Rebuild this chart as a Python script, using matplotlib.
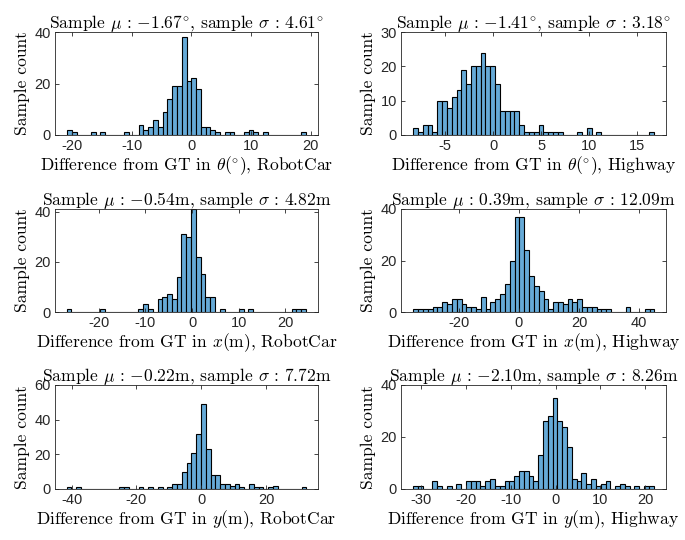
import numpy as np
import matplotlib.pyplot as plt

plt.rcParams['mathtext.fontset'] = 'cm'
plt.rcParams['axes.formatter.use_mathtext'] = True

# histogram counts (50 bins each), bin start and bin width
theta_robotcar = [2, 1, 0, 0, 0, 1, 0, 1, 0, 0,
                  0, 0, 1, 0, 0, 4, 2, 3, 6, 3,
                  9, 14, 19, 19, 38, 21, 22, 18, 3, 3,
                  2, 1, 0, 1, 1, 0, 0, 1, 2, 1,
                  0, 1, 0, 0, 0, 0, 0, 0, 0, 1]
theta_highway = [2, 1, 3, 3, 1, 10, 10, 8, 11, 13,
                 19, 15, 20, 20, 24, 20, 20, 15, 7, 7,
                 7, 7, 3, 1, 1, 1, 3, 1, 1, 1,
                 1, 0, 0, 0, 1, 0, 2, 0, 1, 0,
                 0, 0, 0, 0, 0, 0, 0, 0, 0, 1]
x_robotcar = [1, 0, 0, 0, 0, 0, 0, 1, 0, 0,
              0, 0, 0, 0, 0, 1, 3, 1, 0, 5,
              6, 7, 5, 14, 31, 30, 41, 22, 15, 6,
              6, 0, 1, 0, 0, 0, 1, 0, 1, 0,
              0, 0, 0, 0, 0, 0, 0, 1, 1, 1]
x_highway = [1, 1, 1, 1, 2, 2, 4, 3, 5, 5,
             3, 2, 2, 1, 6, 1, 4, 5, 7, 11,
             20, 37, 37, 24, 14, 10, 8, 5, 1, 4,
             4, 3, 5, 4, 5, 2, 2, 2, 1, 1,
             1, 0, 0, 0, 2, 0, 0, 0, 1, 1]
y_robotcar = [1, 0, 1, 0, 0, 0, 0, 0, 0, 0,
              0, 1, 1, 0, 0, 1, 0, 1, 0, 1,
              0, 1, 3, 3, 10, 15, 21, 32, 49, 23,
              8, 8, 3, 3, 2, 3, 1, 0, 3, 1,
              1, 0, 1, 2, 0, 0, 0, 0, 0, 1]
y_highway = [1, 1, 0, 0, 3, 1, 0, 1, 0, 2,
             0, 3, 3, 3, 1, 3, 4, 1, 1, 3,
             3, 5, 7, 7, 5, 3, 13, 26, 28, 35,
             26, 24, 16, 4, 3, 6, 2, 4, 1, 2,
             3, 0, 1, 2, 1, 0, 1, 0, 1, 1]

counts = [theta_robotcar, theta_highway, x_robotcar, x_highway, y_robotcar, y_highway]
bin_start = [-20.8, -8.33, -26.9, -35.2, -41.5, -31.7]
bin_width = [0.8, 0.502, 1.026, 1.607, 1.477, 1.071]

means = ['{-}1.67', '{-}1.41', '{-}0.54', '0.39', '{-}0.22', '{-}2.10']
stds = ['4.61', '3.18', '4.82', '12.09', '7.72', '8.26']
units = [r'^{\circ}', r'^{\circ}', r'\mathrm{m}', r'\mathrm{m}', r'\mathrm{m}', r'\mathrm{m}']
vars_ = [r'\theta(^{\circ})', r'\theta(^{\circ})', r'x(\mathrm{m})', r'x(\mathrm{m})',
         r'y(\mathrm{m})', r'y(\mathrm{m})']
datasets = ['RobotCar', 'Highway'] * 3

xlims = [(-22.8, 21.2), (-9.6, 18.0), (-29.4, 27.0), (-39.3, 49.0), (-45.1, 35.9), (-34.4, 24.6)]
ylims = [(0, 40), (0, 30), (0, 41), (0, 40), (0, 60), (0, 40)]
xticks = [[-20, -10, 0, 10, 20], [-5, 0, 5, 10, 15], [-20, -10, 0, 10, 20],
          [-20, 0, 20, 40], [-40, -20, 0, 20], [-30, -20, -10, 0, 10, 20]]
yticks = [[0, 20, 40], [0, 10, 20, 30], [0, 20, 40], [0, 20, 40], [0, 20, 40, 60], [0, 20, 40]]

# axes boxes in pixels (left, top, right, bottom)
boxes = [(55, 32, 318, 135), (401, 32, 666, 135),
         (55, 209, 318, 312), (401, 209, 666, 312),
         (55, 385, 318, 489), (401, 385, 666, 489)]

W, H = 685, 540
fig = plt.figure(figsize=(W / 100, H / 100), dpi=100)
face = (0.4, 0.668, 0.845)
axcol = (0.15, 0.15, 0.15)

for i in range(6):
    l, t, r, b = boxes[i]
    ax = fig.add_axes([l / W, 1 - b / H, (r - l) / W, (b - t) / H])
    edges = bin_start[i] + bin_width[i] * np.arange(len(counts[i]))
    ax.bar(edges, counts[i], width=bin_width[i], align='edge', color=face,
           edgecolor='black', linewidth=0.8)
    ax.set_xlim(xlims[i])
    ax.set_ylim(ylims[i])
    ax.set_xticks(xticks[i])
    ax.set_yticks(yticks[i])
    ax.set_xticklabels([str(v) for v in xticks[i]], family='Liberation Sans', fontsize=10.5)
    ax.set_yticklabels([str(v) for v in yticks[i]], family='Liberation Sans', fontsize=10.5)
    ax.tick_params(direction='in', top=True, right=True, length=3, width=0.6,
                   colors=axcol, pad=3)
    for s in ax.spines.values():
        s.set_color(axcol)
        s.set_linewidth(0.6)
    ax.set_title(r'Sample $\mu\,:\,%s%s$, sample $\sigma\,:\,%s%s$'
                 % (means[i], units[i], stds[i], units[i]),
                 family='cmr10', fontsize=12.6, pad=3)
    ax.set_xlabel(r'Difference from GT in $%s$, %s' % (vars_[i], datasets[i]),
                  family='cmr10', fontsize=12.6, labelpad=1)
    ax.set_ylabel('Sample count', family='cmr10', fontsize=12.6, labelpad=3)

fig.savefig('out.png', dpi=100)
